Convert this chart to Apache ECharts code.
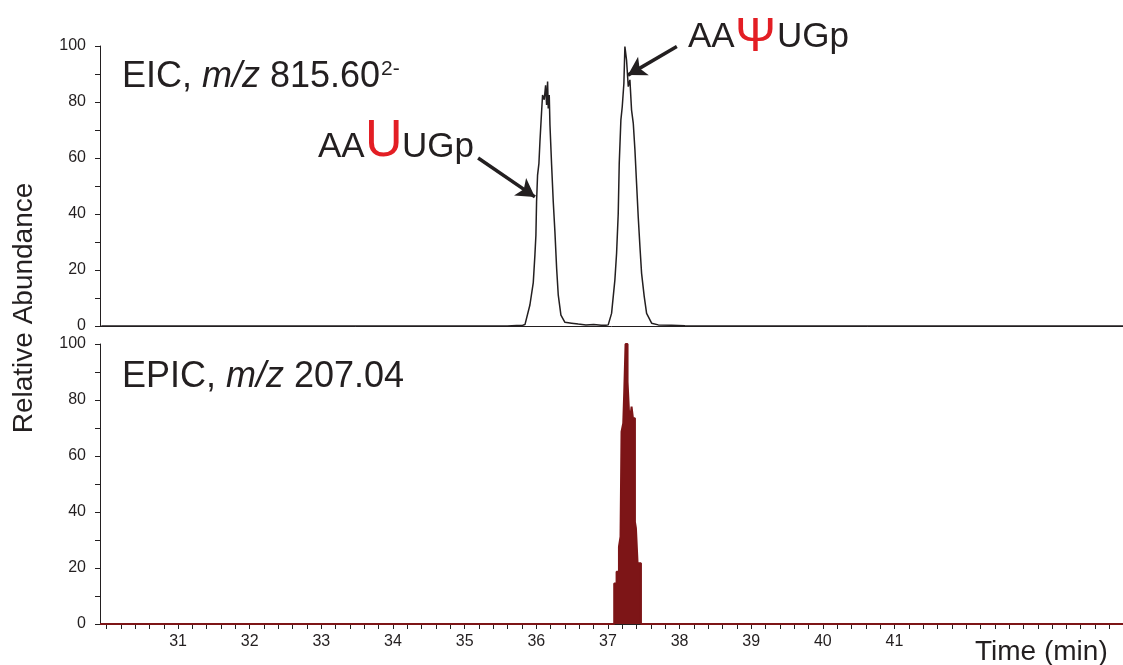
<!DOCTYPE html>
<html>
<head>
<meta charset="utf-8">
<script src="https://cdn.jsdelivr.net/npm/echarts@6.0.0/dist/echarts.min.js"></script>
<style>
  html, body { margin: 0; padding: 0; background: #fff; }
  #chart { width: 1123px; height: 665px; }
</style>
</head>
<body>
<div id="chart"></div>
<script>
// EIC trace, m/z 815.60 (2-)
const eicTime = [29.929, 35.596, 35.725, 35.811, 35.842, 35.911, 35.958, 35.981, 35.995, 36.004, 36.018,
  36.037, 36.051, 36.074, 36.088, 36.111, 36.130, 36.144, 36.158, 36.167, 36.181, 36.191,
  36.214, 36.237, 36.260, 36.284, 36.307, 36.344, 36.400, 36.493, 36.586, 36.693, 36.801, 36.908,
  36.973, 37.004, 37.051, 37.097, 37.121, 37.144, 37.158, 37.181, 37.200, 37.223, 37.237,
  37.260, 37.284, 37.307, 37.330, 37.354, 37.377, 37.400, 37.423, 37.447, 37.470, 37.507,
  37.540, 37.610, 37.703, 37.889, 38.075, 38.285, 44.19];
const eicValue = [0, 0, 0.2, 0.3, 0.5, 7.5, 15.5, 25.4, 32.5, 44.4, 53.9,
  58.1, 65.8, 76.5, 82.5, 80.8, 86.0, 78.9, 87.3, 77.7, 82.5, 71.8,
  57.5, 44.4, 33.7, 20.6, 11.0, 3.9, 1.3, 1.0, 0.7, 0.4, 0.5, 0.3,
  0.3, 0.4, 4.5, 16.4, 26.0, 40.2, 58.0, 73.6, 78.3, 86.7, 99.8,
  95.0, 85.5, 87.9, 77.1, 72.4, 62.9, 50.9, 39.0, 28.3, 18.8, 10.5,
  4.5, 1.0, 0.4, 0.3, 0.1, 0, 0];

// EPIC trace, m/z 207.04 (bars, value holds until next time)
const epicTime = [29.91, 37.088, 37.121, 37.154, 37.176, 37.190, 37.214, 37.228, 37.246, 37.274,
  37.293, 37.312, 37.330, 37.349, 37.377, 37.391, 37.414, 37.461, 44.19];
const epicValue = [0, 14.5, 18.7, 27.6, 31.2, 68.7, 71.7, 83.0, 100, 86.5,
  76.4, 73.5, 77.6, 73.5, 36.5, 34.2, 21.7, 0, 0];

const xMin = 29.91;
const xMax = 44.19;
const xLabels = [31, 32, 33, 34, 35, 36, 37, 38, 39, 40, 41];
const yLabels = [0, 20, 40, 60, 80, 100];
const yTicks = [0, 10, 20, 30, 40, 50, 60, 70, 80, 90, 100];
const xTicks = [];
for (let k = 150; k <= 220; k++) xTicks.push(Math.round(k * 20) / 100);

// arrows: [tailTime, tailValue, tipTime, tipValue]
const arrowU = [35.188, 60.0, 35.981, 46.1];
const arrowPsi = [37.962, 99.8, 37.279, 89.6];

const ink = '#231f20';
const red = '#e31e24';
const darkRed = '#7d1517';
const font = "'Liberation Sans', Arial, sans-serif";

const chart = echarts.init(document.getElementById('chart'));

const axisBase = {
  type: 'value',
  min: xMin,
  max: xMax,
  splitLine: { show: false },
  axisLine: { show: true, onZero: false, lineStyle: { color: ink, width: 1 } }
};
const yBase = {
  type: 'value',
  min: 0,
  max: 100,
  splitLine: { show: false },
  axisLine: { show: true, onZero: false, lineStyle: { color: ink, width: 1 } },
  axisTick: { show: true, length: 5, customValues: yTicks, lineStyle: { color: ink } },
  axisLabel: { customValues: yLabels, margin: 14, fontSize: 16, color: ink, fontFamily: font }
};

const option = {
  animation: false,
  grid: [
    { left: 100, right: 0, top: 46, height: 280 },
    { left: 100, right: 0, top: 344, height: 280 }
  ],
  xAxis: [
    Object.assign({ gridIndex: 0, axisTick: { show: false }, axisLabel: { show: false } }, axisBase),
    Object.assign({
      gridIndex: 1,
      axisTick: { show: true, length: 5, customValues: xTicks, lineStyle: { color: ink } },
      axisLabel: { customValues: xLabels, margin: 10, fontSize: 16, color: ink, fontFamily: font }
    }, axisBase)
  ],
  yAxis: [
    Object.assign({ gridIndex: 0 }, yBase),
    Object.assign({ gridIndex: 1 }, yBase)
  ],
  series: [
    {
      type: 'line',
      xAxisIndex: 0,
      yAxisIndex: 0,
      clip: false,
      symbol: 'none',
      data: eicTime.map((t, i) => [t, eicValue[i]]),
      lineStyle: { color: ink, width: 1.5 },
      markLine: {
        silent: true,
        animation: false,
        symbol: ['none', 'arrow'],
        symbolSize: [16, 18],
        label: { show: false },
        lineStyle: { color: ink, width: 3.5, type: 'solid' },
        data: [
          [{ coord: [arrowU[0], arrowU[1]] }, { coord: [arrowU[2], arrowU[3]] }],
          [{ coord: [arrowPsi[0], arrowPsi[1]] }, { coord: [arrowPsi[2], arrowPsi[3]] }]
        ]
      }
    },
    {
      type: 'line',
      xAxisIndex: 1,
      yAxisIndex: 1,
      step: 'end',
      symbol: 'none',
      data: epicTime.map((t, i) => [t, epicValue[i]]),
      lineStyle: { color: darkRed, width: 2 },
      areaStyle: { color: darkRed, opacity: 1 }
    }
  ],
  graphic: [
    {
      type: 'text', x: 24, y: 308, rotation: Math.PI / 2,
      style: { text: 'Relative Abundance', fontSize: 28, fontFamily: font, fill: ink, align: 'center', verticalAlign: 'middle' }
    },
    {
      type: 'text', x: 122, y: 77,
      style: {
        text: '{n|EIC, }{i|m/z}{n| 815.60}',
        fontFamily: font, fill: ink, align: 'left', verticalAlign: 'middle',
        rich: {
          n: { fontSize: 36, fontFamily: font, fill: ink },
          i: { fontSize: 36, fontFamily: font, fill: ink, fontStyle: 'italic' }
        }
      }
    },
    { type: 'text', x: 381, y: 59, style: { text: '2-', fontSize: 21, fontFamily: font, fill: ink, verticalAlign: 'top' } },
    {
      type: 'text', x: 122, y: 377,
      style: {
        text: '{n|EPIC, }{i|m/z}{n| 207.04}',
        fontFamily: font, fill: ink, align: 'left', verticalAlign: 'middle',
        rich: {
          n: { fontSize: 36, fontFamily: font, fill: ink },
          i: { fontSize: 36, fontFamily: font, fill: ink, fontStyle: 'italic' }
        }
      }
    },
    { type: 'text', x: 318, y: 165, style: { text: 'AA', fontSize: 35, fontFamily: font, fill: ink, verticalAlign: 'bottom' } },
    { type: 'text', x: 365, y: 168, style: { text: 'U', fontSize: 52, fontFamily: font, fill: red, verticalAlign: 'bottom' } },
    { type: 'text', x: 402, y: 165, style: { text: 'UGp', fontSize: 35, fontFamily: font, fill: ink, verticalAlign: 'bottom' } },
    { type: 'text', x: 688, y: 55, style: { text: 'AA', fontSize: 35, fontFamily: font, fill: ink, verticalAlign: 'bottom' } },
    { type: 'text', x: 735, y: 62, style: { text: 'Ψ', fontSize: 49, fontFamily: font, fill: red, verticalAlign: 'bottom' } },
    { type: 'text', x: 777, y: 55, style: { text: 'UGp', fontSize: 35, fontFamily: font, fill: ink, verticalAlign: 'bottom' } },
    { type: 'text', x: 975, y: 652, style: { text: 'Time (min)', fontSize: 28, fontFamily: font, fill: ink, verticalAlign: 'middle' } }
  ]
};

chart.setOption(option);
</script>
</body>
</html>
